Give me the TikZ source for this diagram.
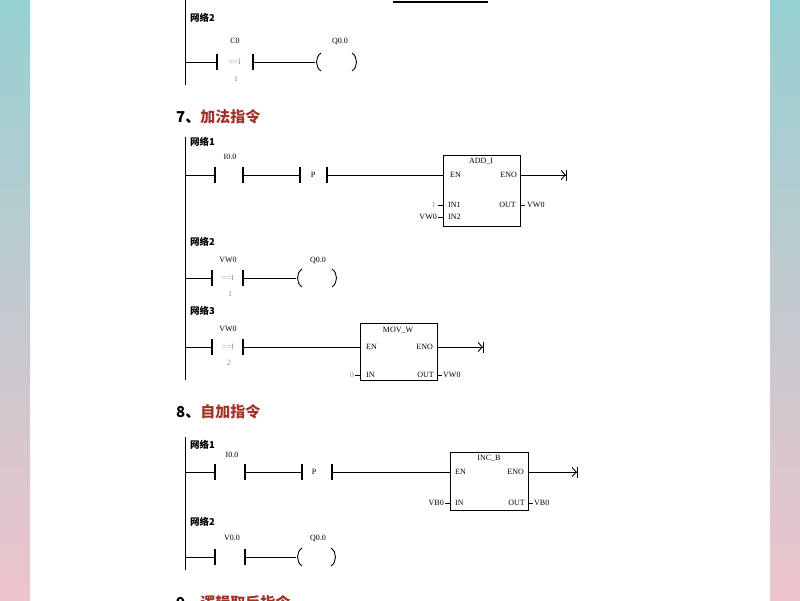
\documentclass[tikz,border=0pt]{standalone}
\usepackage{fontspec}
\setmainfont{Liberation Serif}
\newfontfamily\cjk{Noto Sans CJK SC}
\usetikzlibrary{arrows.meta}
\definecolor{titlered}{RGB}{160,50,40}
\definecolor{edgetop}{RGB}{150,208,210}
\definecolor{edgebot}{RGB}{238,196,204}
\tikzset{
  lbl/.style={font=\fontsize{8}{8}\selectfont, inner sep=0pt},
  grey/.style={lbl, text=black!45},
  net/.style={font=\cjk\bfseries\fontsize{9.5}{9.5}\selectfont, inner sep=0pt, anchor=west},
  title/.style={font=\cjk\bfseries\fontsize{15}{15}\selectfont, inner sep=0pt, anchor=west},
  box/.style={draw, line width=1pt, inner sep=0pt, anchor=north west},
  wire/.style={line width=0.9pt},
  bar/.style={line width=1.2pt},
  endmark/.style={wire, -{Straight Barb[length=4pt,width=9pt]Bar[width=11pt,line width=1.2pt]}}
}
% contact bars at x1 and x2 on rung y
\newcommand{\ldcontact}[3]{\draw[bar] (#1,#3-8) -- (#1,#3+8); \draw[bar] (#2,#3-8) -- (#2,#3+8);}
% coil ( ) from x1 to x2
\newcommand{\ldcoil}[3]{\draw[wire] (#1+6,#3-9) .. controls (#1,#3-5) and (#1,#3+5) .. (#1+6,#3+9);
  \draw[wire] (#2-6,#3-9) .. controls (#2,#3-5) and (#2,#3+5) .. (#2-6,#3+9);}
\begin{document}
\begin{tikzpicture}[x=1pt,y=-1pt]
\useasboundingbox (0,0) rectangle (800,600);
\shade[top color=edgetop, bottom color=edgebot] (0,0) rectangle (30,600);
\shade[top color=edgetop, bottom color=edgebot] (770,0) rectangle (800,600);

% part 6, network 2
\draw[wire] (185,0) -- (185,85);
\draw[line width=1.2pt] (393,2) -- (488,2);
\node[net] (n62) at (190,18) {网络2};
\ldcontact{217}{253}{62}
\draw[wire] (185,62) -- (217,62) (253,62) -- (315,62);
\ldcoil{315}{358}{62}
\node[lbl] (c0) at (235,41) {C0};
\node[grey] (eq0) at (235,62) {==I};
\node[grey] (k0) at (236,79) {1};
\node[lbl] (q60) at (340,41) {Q0.0};

% 7 add
\node[title] (t7) at (176,117) {7、\textcolor{titlered}{加法指令}};
\draw[wire] (185,137) -- (185,380);
\node[net] (n71) at (190,142) {网络1};
\ldcontact{215}{243}{175}
\ldcontact{300}{327}{175}
\node[lbl] (i70) at (230,157) {I0.0};
\node[lbl] (p7) at (313,175) {P};
\node[box, minimum width=77pt, minimum height=71pt] (add) at (443,155) {};
\node[lbl] at (481,161) {ADD\_I};
\node[lbl, anchor=west] at (450,175) {EN};
\node[lbl, anchor=east] (eno7) at (517,175) {ENO};
\node[lbl, anchor=west] at (448,205) {IN1};
\node[lbl, anchor=west] at (448,217) {IN2};
\node[lbl, anchor=east] at (516,205) {OUT};
\draw[wire] (185,175) -- (215,175) (243,175) -- (300,175) (327,175) -- (add.west |- 0,175);
\coordinate (end71) at (567,175);
\draw[endmark] (add.east |- 0,175) -- (end71);
\draw[wire] (438,205) -- (443,205) (438,217) -- (443,217) (520,205) -- (525,205);
\node[grey, anchor=east] at (436,205) {1};
\node[lbl, anchor=east] at (437,217) {VW0};
\node[lbl, anchor=west] at (527,205) {VW0};

\node[net] (n72) at (190,242) {网络2};
\ldcontact{212}{243}{278}
\draw[wire] (185,278) -- (212,278) (243,278) -- (296,278);
\ldcoil{296}{338}{278}
\node[lbl] at (228,260) {VW0};
\node[grey] at (228,278) {==I};
\node[grey] at (230,294) {1};
\node[lbl] at (318,260) {Q0.0};

\node[net] (n73) at (190,311) {网络3};
\ldcontact{212}{243}{347}
\node[lbl] at (228,329) {VW0};
\node[grey] at (228,347) {==I};
\node[grey] at (229,363) {2};
\node[box, minimum width=77pt, minimum height=57pt] (mov) at (360,323) {};
\node[lbl] at (398,330) {MOV\_W};
\node[lbl, anchor=west] at (366,347) {EN};
\node[lbl, anchor=east] at (433,347) {ENO};
\node[lbl, anchor=west] at (366,375) {IN};
\node[lbl, anchor=east] at (434,375) {OUT};
\draw[wire] (185,347) -- (212,347) (243,347) -- (mov.west |- 0,347);
\coordinate (end73) at (484,347);
\draw[endmark] (mov.east |- 0,347) -- (end73);
\draw[wire] (355,375) -- (360,375) (437,375) -- (442,375);
\node[grey, anchor=east] at (354,375) {0};
\node[lbl, anchor=west] at (443,375) {VW0};

% 8 inc
\node[title] (t8) at (176,412) {8、\textcolor{titlered}{自加指令}};
\draw[wire] (185,437) -- (185,570);
\node[net] (n81) at (190,445) {网络1};
\ldcontact{215}{245}{472}
\ldcontact{302}{332}{472}
\node[lbl] at (232,455) {I0.0};
\node[lbl] at (314,472) {P};
\node[box, minimum width=78pt, minimum height=58pt] (inc) at (450,452) {};
\node[lbl] at (489,458) {INC\_B};
\node[lbl, anchor=west] at (455,472) {EN};
\node[lbl, anchor=east] at (524,472) {ENO};
\node[lbl, anchor=west] at (455,503) {IN};
\node[lbl, anchor=east] at (525,503) {OUT};
\draw[wire] (185,472) -- (215,472) (245,472) -- (302,472) (332,472) -- (inc.west |- 0,472);
\coordinate (end81) at (578,472);
\draw[endmark] (inc.east |- 0,472) -- (end81);
\draw[wire] (445,503) -- (450,503) (528,503) -- (533,503);
\node[lbl, anchor=east] at (444,503) {VB0};
\node[lbl, anchor=west] at (534,503) {VB0};

\node[net] (n82) at (190,522) {网络2};
\ldcontact{215}{245}{557}
\draw[wire] (185,557) -- (215,557) (245,557) -- (296,557);
\ldcoil{296}{337}{557}
\node[lbl] at (232,538) {V0.0};
\node[lbl] at (318,538) {Q0.0};

\node[title] (t9) at (176,603) {9、\textcolor{titlered}{逻辑取反指令}};
\end{tikzpicture}
\end{document}
